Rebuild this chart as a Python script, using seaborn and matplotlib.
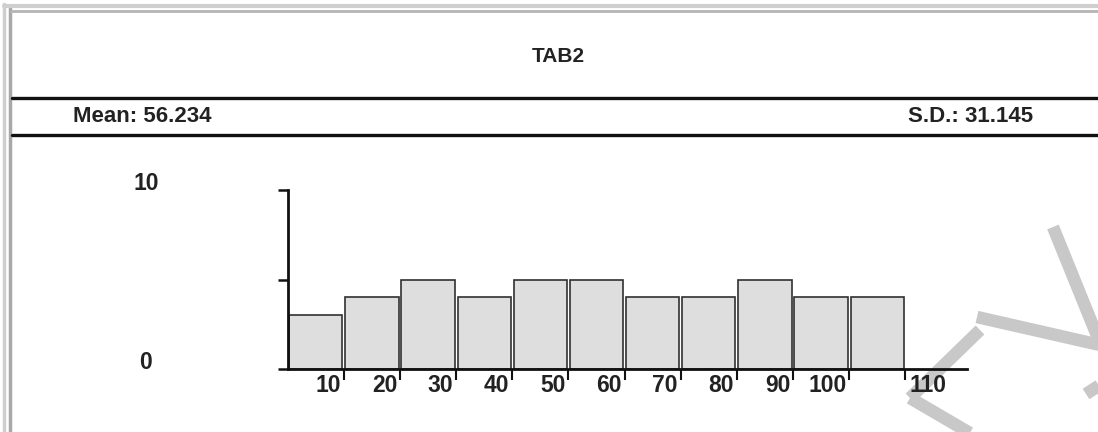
import numpy as np
import matplotlib
matplotlib.use("Agg")
import matplotlib.pyplot as plt
from matplotlib.lines import Line2D
from matplotlib.transforms import blended_transform_factory, offset_copy
import seaborn as sns

# histogram data
bin_edges = [0, 10, 20, 30, 40, 50, 60, 70, 80, 90, 100, 110]
counts = [3, 4, 5, 4, 5, 5, 4, 4, 5, 4, 4]
x_ticks = [10, 20, 30, 40, 50, 60, 70, 80, 90, 100, 110]
y_labels = [0, 10]
title = "TAB2"
mean_txt = "Mean: 56.234"
sd_txt = "S.D.: 31.145"

sns.set_style("white")
font = ["Liberation Sans", "DejaVu Sans"]
ink = "#222222"

W, H = 1098, 432
fig = plt.figure(figsize=(W / 100, H / 100), dpi=100)
fig.patch.set_facecolor("white")

def fx(px):
    return px / W

def fy(py):
    return 1 - py / H

# window frame (grey edges left and top)
fig.add_artist(Line2D([fx(4), fx(4)], [fy(4), fy(432)], color="#cfcfcf", lw=2.5))
fig.add_artist(Line2D([fx(10), fx(10)], [fy(8), fy(432)], color="#a8a8a8", lw=2.5))
fig.add_artist(Line2D([fx(4), fx(1098)], [fy(6), fy(6)], color="#cfcfcf", lw=3))
fig.add_artist(Line2D([fx(11), fx(1098)], [fy(11), fy(11)], color="#b4b4b4", lw=2))

# header rules
for yy in (98, 135):
    fig.add_artist(Line2D([fx(12), fx(1098)], [fy(yy), fy(yy)], color="#111111", lw=2.4))

fig.text(fx(558), fy(57), title, ha="center", va="center", fontsize=15,
         family=font, fontweight="bold", color=ink)
fig.text(fx(73), fy(117), mean_txt, ha="left", va="center", fontsize=16,
         family=font, fontweight="bold", color=ink)
fig.text(fx(1033), fy(117), sd_txt, ha="right", va="center", fontsize=16,
         family=font, fontweight="bold", color=ink)

# watermark strokes
wm = [
    [(1053, 227), (1100, 343)],
    [(977, 317), (1100, 345)],
    [(980, 330), (910, 398)],
    [(910, 398), (975, 436)],
    [(1086, 394), (1100, 385)],
]
for seg in wm:
    xs = [fx(p[0]) for p in seg]
    ys = [fy(p[1]) for p in seg]
    fig.add_artist(Line2D(xs, ys, color="#c8c8c8", lw=9, solid_capstyle="butt", zorder=-1))

ax = fig.add_axes([287.7 / W, (H - 369) / H, (967 - 287.7) / W, 179 / H])
ax.patch.set_alpha(0)

mids = [(a + b) / 2 for a, b in zip(bin_edges[:-1], bin_edges[1:])]
sns.histplot(x=mids, weights=counts, bins=bin_edges, shrink=0.95,
             color="#dedede", edgecolor="#303030", linewidth=1.2, alpha=1, ax=ax)

ax.set_xlim(0, 121)
ax.set_ylim(0, 10)
ax.set_xlabel("")
ax.set_ylabel("")
for s in ("top", "right"):
    ax.spines[s].set_visible(False)
for s in ("left", "bottom"):
    ax.spines[s].set_linewidth(2)
    ax.spines[s].set_color("#111111")

ax.set_yticks([0, 5, 10])
ax.set_yticklabels([])
ax.tick_params(axis="y", length=7.5, width=1.8, direction="out", left=True, color="#111111")
ax.set_xticks(x_ticks)
ax.set_xticklabels([])
ax.tick_params(axis="x", length=8, width=1.5, direction="out", bottom=True, color="#111111")

# y labels placed far left of the axis
ytr = blended_transform_factory(fig.transFigure, ax.transData)
for v in y_labels:
    ax.text(fx(146), v, str(v), transform=ytr, ha="center", va="baseline",
            fontsize=16.5, family=font, fontweight="bold", color=ink)

# x labels sit left of their tick, last one right of it
xtr = blended_transform_factory(ax.transData, ax.transAxes)
for v in x_ticks:
    if v == x_ticks[-1]:
        tr = offset_copy(xtr, fig=fig, x=3, y=-3.5, units="points")
        ha = "left"
    else:
        tr = offset_copy(xtr, fig=fig, x=-2, y=-3.5, units="points")
        ha = "right"
    ax.text(v, 0, str(v), transform=tr, ha=ha, va="top", fontsize=16.5,
            family=font, fontweight="bold", color=ink)

fig.savefig("out.png", dpi=100)
